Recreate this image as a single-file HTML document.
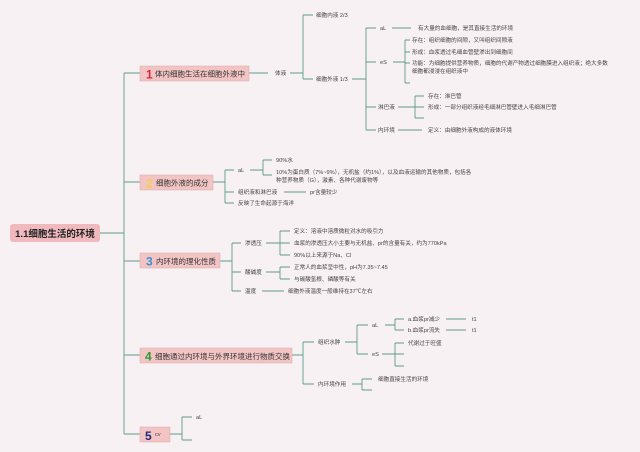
<!DOCTYPE html>
<html><head><meta charset="utf-8"><style>
html,body{margin:0;padding:0;background:#f8f1f3;}
svg{display:block;font-family:"Liberation Sans","Noto Sans CJK SC",sans-serif;}
.s{font-size:5.6px;fill:#444;}
.n{font-size:7.5px;fill:#333;}
</style></head><body>
<svg width="640" height="452" viewBox="0 0 640 452" xmlns="http://www.w3.org/2000/svg">
<rect width="640" height="452" fill="#f8f1f3"/>
<g stroke="#5e9a8a" stroke-width="0.9" fill="none">
<path d="M100 233H124M124 73V434M124 73H140M124 182H140M124 261H140M124 355H140M124 434H140"/>
<path d="M249 73H268M290 73H303M303 15V79M303 15H313M303 79H313"/>
<path d="M352 79H366M366 28V130M366 28H376M366 62H376M366 107H376M366 130H376"/>
<path d="M392 28H411"/>
<path d="M393 62H405M405 40V83M405 40H410M405 52H410M405 63H410M405 83H410"/>
<path d="M398 107H415M415 96V118M415 96H424M415 107H424M415 118H424"/>
<path d="M398 130H422"/>
<path d="M213 182H225M225 170V203M225 170H234M225 192H234M225 203H234"/>
<path d="M250 170H263M263 160V175M263 160H272M263 175H272"/>
<path d="M284 192H306"/>
<path d="M220 261H232M232 243V291M232 243H241M232 272H241M232 291H241"/>
<path d="M266 243H280M280 231V255M280 231H290M280 243H290M280 255H290"/>
<path d="M266 272H280M280 267V279M280 267H290M280 279H290"/>
<path d="M262 291H284"/>
<path d="M292 355H303M303 342V384M303 342H314M303 384H314"/>
<path d="M345 342H357M357 325V354M357 325H368M357 354H368"/>
<path d="M385 325H395M395 319V330M395 319H404M395 330H404"/>
<path d="M446 319H466M446 330H466"/>
<path d="M382 354H395M395 343V366M395 343H404M395 354H404M395 366H404"/>
<path d="M352 384H362M362 379V390M362 379H372M362 390H372"/>
<path d="M170 434H182M182 417V440M182 417H192M182 440H192"/>
</g>
<rect x="10" y="224" width="90" height="18" rx="3" fill="#f0b9bd"/>
<text x="55" y="237" text-anchor="middle" font-size="9.5" font-weight="bold" fill="#222">1.1细胞生活的环境</text>
<rect x="140" y="66" width="109" height="15" fill="#f2c4c4" stroke="#d9a9a9" stroke-width="0.5"/>
<text x="146" y="78.5" font-size="12" font-weight="bold" fill="#d42a3c">1</text>
<text x="155" y="76.5" class="n" font-size="7.3">体内细胞生活在细胞外液中</text>
<rect x="140" y="175" width="73" height="15" fill="#f2c4c4" stroke="#d9a9a9" stroke-width="0.5"/>
<text x="146" y="187.5" font-size="12" font-weight="bold" fill="#f3d04a">2</text>
<text x="156" y="185.5" class="n">细胞外液的成分</text>
<rect x="140" y="253" width="80" height="15" fill="#f2c4c4" stroke="#d9a9a9" stroke-width="0.5"/>
<text x="146" y="265.5" font-size="12" font-weight="bold" fill="#3a8fd0">3</text>
<text x="156" y="264" class="n">内环境的理化性质</text>
<rect x="140" y="348" width="152" height="15" fill="#f2c4c4" stroke="#d9a9a9" stroke-width="0.5"/>
<text x="145" y="360.5" font-size="12" font-weight="bold" fill="#2a9a3a">4</text>
<text x="155" y="359" class="n">细胞通过内环境与外界环境进行物质交换</text>
<rect x="140" y="427" width="30" height="15" fill="#f2c4c4" stroke="#d9a9a9" stroke-width="0.5"/>
<text x="145" y="440" font-size="12" font-weight="bold" fill="#1e2a7a">5</text>
<text x="155" y="436" class="s" font-size="5">cv</text>
<text x="275" y="75" class="s">体液</text>
<text x="316" y="17" class="s">细胞内液 2/3</text>
<text x="316" y="81" class="s">细胞外液 1/3</text>
<text x="380" y="30" class="s">aL</text>
<text x="380" y="64" class="s">eS</text>
<text x="378" y="109" class="s">淋巴液</text>
<text x="378" y="132" class="s">内环境</text>
<text x="418" y="30" class="s">有大量的血细胞，是其直接生活的环境</text>
<text x="412" y="42" class="s">存在：组织细胞的间隙，又叫组织间隙液</text>
<text x="412" y="54" class="s">形成：血浆透过毛细血管壁渗出到细胞间</text>
<text x="412" y="65" class="s">功能：为细胞提供营养物质，细胞的代谢产物透过细胞膜进入组织液；绝大多数</text>
<text x="412" y="73" class="s">细胞都浸浸在组织液中</text>
<text x="428" y="98" class="s">存在：淋巴管</text>
<text x="428" y="109" class="s">形成：一部分组织液经毛细淋巴管壁进入毛细淋巴管</text>
<text x="428" y="132" class="s">定义：由细胞外液构成的液体环境</text>
<text x="238" y="172" class="s">aL</text>
<text x="238" y="194" class="s">组织液和淋巴液</text>
<text x="238" y="205" class="s">反映了生命起源于海洋</text>
<text x="276" y="162" class="s">90%水</text>
<text x="276" y="174" class="s">10%为蛋白质（7%~9%），无机盐（约1%），以及血液运输的其他物质，包括各</text>
<text x="276" y="182" class="s">种营养物质（G），激素、各种代谢废物等</text>
<text x="310" y="194" class="s">pr含量较少</text>
<text x="245" y="245" class="s">渗透压</text>
<text x="245" y="274" class="s">酸碱度</text>
<text x="245" y="293" class="s">温度</text>
<text x="294" y="233" class="s">定义：溶液中溶质微粒对水的吸引力</text>
<text x="294" y="245" class="s">血浆的渗透压大小主要与无机盐、pr的含量有关，约为770kPa</text>
<text x="294" y="257" class="s">90%以上来源于Na、Cl</text>
<text x="294" y="269" class="s">正常人的血浆呈中性，pH为7.35~7.45</text>
<text x="294" y="281" class="s">与碳酸氢根、磷酸等有关</text>
<text x="288" y="293" class="s">细胞外液温度一般维持在37℃左右</text>
<text x="318" y="344" class="s">组织水肿</text>
<text x="318" y="386" class="s">内环境作用</text>
<text x="372" y="327" class="s">aL</text>
<text x="372" y="356" class="s">eS</text>
<text x="408" y="321" class="s">a.血浆pr减少</text>
<text x="408" y="332" class="s">b.血浆pr流失</text>
<text x="472" y="321" class="s">t1</text>
<text x="472" y="332" class="s">t1</text>
<text x="408" y="345" class="s">代谢过于旺盛</text>
<text x="378" y="381" class="s">细胞直接生活的环境</text>
<text x="196" y="419" class="s">aL</text>
</svg>
</body></html>
